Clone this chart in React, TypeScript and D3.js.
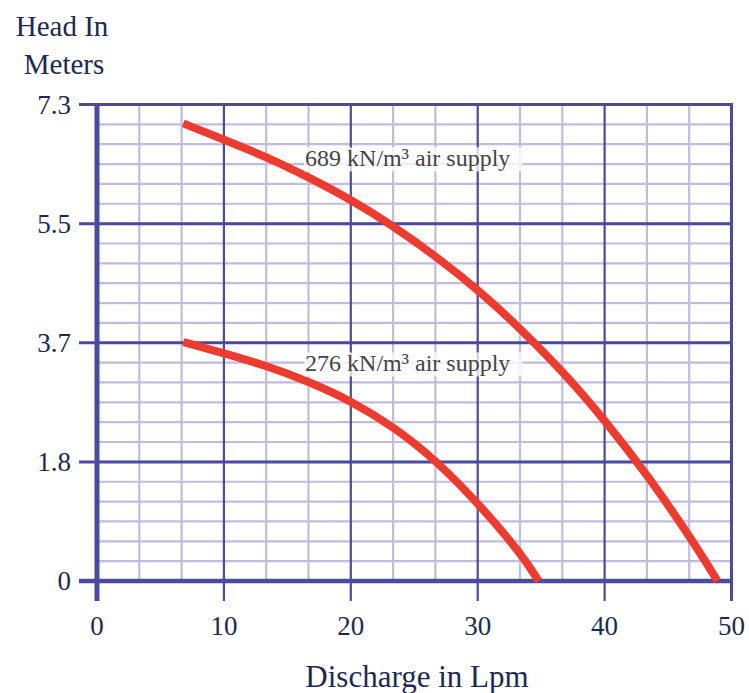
import * as d3 from "d3";

// readings from the chart: discharge (Lpm) vs head (m)
const highSupply: [number, number][] = [
  [6.8, 7.03], [10, 6.78], [13.3, 6.52], [16.6, 6.21], [20, 5.86], [23.3, 5.46],
  [26.7, 4.99], [30.3, 4.43], [33.4, 3.87], [36.8, 3.2], [40.1, 2.45],
  [43.4, 1.62], [46.8, 0.66], [48.9, 0],
];
const lowSupply: [number, number][] = [
  [6.8, 3.67], [10, 3.5], [13.3, 3.31], [16.6, 3.07], [20, 2.77], [23.3, 2.38],
  [26.7, 1.86], [30.3, 1.14], [33.5, 0.4], [34.8, 0],
];
const xTicks = [0, 10, 20, 30, 40, 50];
const yTicks = [0, 1.83, 3.66, 5.49, 7.32];
const labels = [
  { text: "689 kN/m³ air supply", x: 16.4, y: 6.6 },
  { text: "276 kN/m³ air supply", x: 16.4, y: 3.45 },
];

const W = 749;
const H = 693;
const font = "'Liberation Serif', 'DejaVu Serif', serif";
const major = "#4a4a9e";
const minor = "#c2bbe0";
const ink = "#1c2a52";
const red = "#ee3b2f";

export default function App() {
  const x = d3.scaleLinear().domain([0, 50]).range([97, 731.5]);
  const y = d3.scaleLinear().domain([0, 7.32]).range([581, 104.5]);

  const minorX = d3.range(0, 16).map((i) => (i * 10) / 3).filter((v) => v % 10 > 0.01 && v % 10 < 9.99);
  const minorY = d3.range(0, 25).map((i) => (i * 7.32) / 24);

  const line = d3
    .line<[number, number]>()
    .x((d) => x(d[0]))
    .y((d) => y(d[1]))
    .curve(d3.curveBasis);

  const [x0, x1] = x.range();
  const [y0, y1] = y.range();

  return (
    <svg
      width={W}
      height={H}
      style={{ position: "absolute", left: 0, top: 0, background: "#fff" }}
      fontFamily={font}
    >
      {/* minor grid */}
      {minorY.map((v, i) => (
        <line key={"my" + i} x1={x0} x2={x1} y1={y(v)} y2={y(v)} stroke={minor} strokeWidth={2.2} />
      ))}
      {minorX.map((v, i) => (
        <line key={"mx" + i} x1={x(v)} x2={x(v)} y1={y0} y2={y1} stroke={minor} strokeWidth={2.2} />
      ))}

      {/* major grid */}
      {yTicks.slice(1, -1).map((v) => (
        <line key={"gy" + v} x1={79} x2={x1} y1={y(v)} y2={y(v)} stroke={major} strokeWidth={3} />
      ))}
      {xTicks.slice(1, -1).map((v) => (
        <line key={"gx" + v} x1={x(v)} x2={x(v)} y1={y1} y2={601} stroke={major} strokeWidth={2.2} />
      ))}
      {/* frame */}
      <line x1={79} x2={x1 + 1.5} y1={y1} y2={y1} stroke={major} strokeWidth={3} />
      <line x1={x1} x2={x1} y1={y1} y2={601} stroke={major} strokeWidth={3} />
      <line x1={79} x2={x1 + 1.5} y1={y0} y2={y0} stroke={major} strokeWidth={4.5} />
      <line x1={x0} x2={x0} y1={y1 - 1.5} y2={601} stroke={major} strokeWidth={5} />

      {/* curves */}
      <path d={line(highSupply) ?? ""} fill="none" stroke={red} strokeWidth={8} />
      <path d={line(lowSupply) ?? ""} fill="none" stroke={red} strokeWidth={8} />

      {/* curve labels */}
      {labels.map((l) => (
        <g key={l.text}>
          <rect x={x(l.x) - 1} y={y(l.y) - 4} width={218} height={24} fill="#fff" opacity={0.75} />
          <text x={x(l.x)} y={y(l.y) + 15} fontSize={24} fill="#444">
            {l.text}
          </text>
        </g>
      ))}

      {/* tick labels */}
      {yTicks.map((v) => (
        <text key={"ty" + v} x={71} y={y(v)} dy="0.35em" textAnchor="end" fontSize={27} fill={ink}>
          {v === 0 ? "0" : d3.format(".1f")(v)}
        </text>
      ))}
      {xTicks.map((v) => (
        <text key={"tx" + v} x={x(v)} y={635} textAnchor="middle" fontSize={27} fill={ink}>
          {v}
        </text>
      ))}

      {/* axis titles */}
      <text x={62} y={36} textAnchor="middle" fontSize={29} fill={ink}>Head In</text>
      <text x={64} y={74} textAnchor="middle" fontSize={29} fill={ink}>Meters</text>
      <text x={417} y={687} textAnchor="middle" fontSize={31} fill={ink}>Discharge in Lpm</text>
    </svg>
  );
}
